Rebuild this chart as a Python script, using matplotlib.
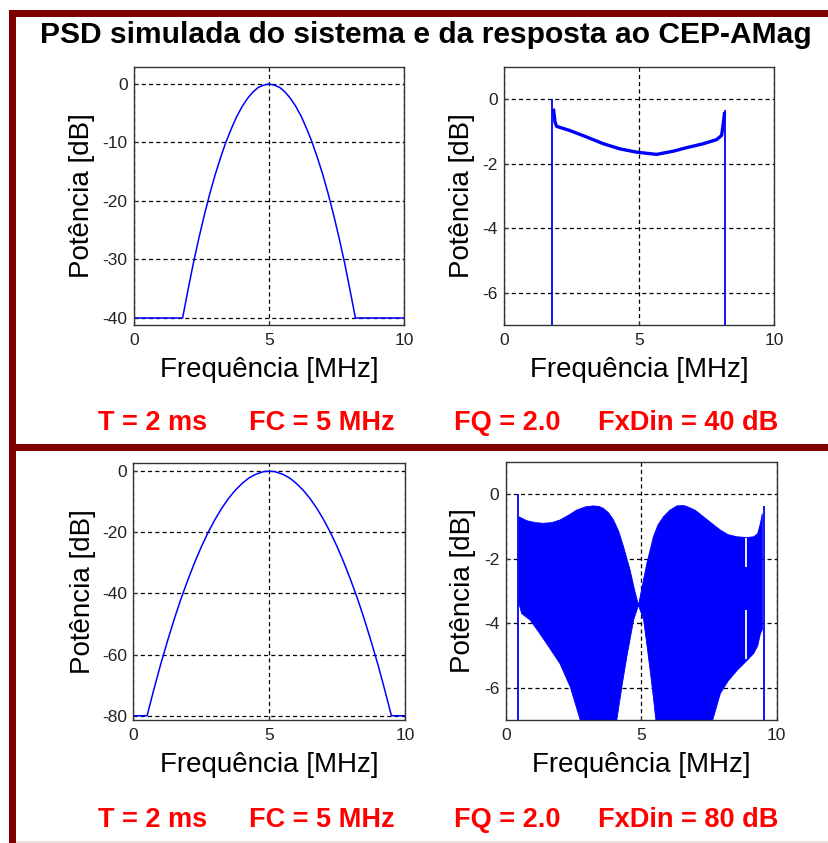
#!/usr/bin/env python3
"""PSD do sistema e da resposta ao CEP-AMag para duas faixas dinamicas (40 e 80 dB)."""

import matplotlib
matplotlib.use("Agg")
import matplotlib.pyplot as plt
from matplotlib.patches import Rectangle
import numpy as np

plt.rcParams["font.family"] = ["Liberation Sans", "DejaVu Sans"]
plt.rcParams["axes.unicode_minus"] = False

W, H = 829, 843

TITLE = "PSD simulada do sistema e da resposta ao CEP-AMag"
XLABEL = "Frequência [MHz]"
YLABEL = "Potência [dB]"

params_40 = ["T = 2 ms", "FC = 5 MHz", "FQ = 2.0", "FxDin = 40 dB"]
params_80 = ["T = 2 ms", "FC = 5 MHz", "FQ = 2.0", "FxDin = 80 dB"]

x_ticks = [0, 5, 10]

# --- sistema, FxDin = 40 dB ---
sys40_freq = [0.0, 1.8, 2.0, 2.2, 2.4, 2.6, 2.8, 3.0, 3.2, 3.4, 3.6, 3.8, 4.0,
              4.2, 4.4, 4.6, 4.8, 5.0, 5.2, 5.4, 5.6, 5.8, 6.0, 6.2, 6.4, 6.6,
              6.8, 7.0, 7.2, 7.4, 7.6, 7.8, 8.0, 8.2, 10.0]
sys40_db = [-40, -40, -35.2, -30.6, -26.4, -22.5, -18.9, -15.6, -12.7, -10.0,
            -7.7, -5.6, -3.9, -2.5, -1.4, -0.6, -0.2, 0.0, -0.2, -0.6, -1.4,
            -2.5, -3.9, -5.6, -7.7, -10.0, -12.7, -15.6, -18.9, -22.5, -26.4,
            -30.6, -35.2, -40, -40]
sys40_yticks = [0, -10, -20, -30, -40]

# --- resposta, FxDin = 40 dB ---
resp40_freq = [1.83, 1.89, 1.95, 2.44, 3.06, 3.68, 4.30, 4.91, 5.65, 6.27,
               6.77, 7.38, 7.88, 8.06, 8.12, 8.17]
resp40_db = [-0.29, -0.71, -0.84, -0.97, -1.17, -1.38, -1.54, -1.64, -1.71,
             -1.61, -1.50, -1.38, -1.25, -1.12, -0.76, -0.40]
resp40_edge_freq = [1.79, 8.19]
resp40_edge_top = [0.0, -0.34]
resp_yticks = [0, -2, -4, -6]

# --- sistema, FxDin = 80 dB ---
sys80_freq = [0.0, 0.5, 0.75, 1.0, 1.25, 1.5, 1.75, 2.0, 2.25, 2.5, 2.75, 3.0,
              3.25, 3.5, 3.75, 4.0, 4.25, 4.5, 4.8, 5.0, 5.2, 5.5, 5.75, 6.0,
              6.25, 6.5, 6.75, 7.0, 7.25, 7.5, 7.75, 8.0, 8.25, 8.5, 8.75,
              9.0, 9.25, 9.5, 10.0]
sys80_db = [-80, -80, -71.4, -63.2, -55.6, -48.4, -41.7, -35.6, -29.9, -24.7,
            -20.0, -15.8, -12.1, -8.9, -6.2, -4.0, -2.2, -1.0, -0.1, 0.0, -0.1,
            -1.0, -2.2, -4.0, -6.2, -8.9, -12.1, -15.8, -20.0, -24.7, -29.9,
            -35.6, -41.7, -48.4, -55.6, -63.2, -71.4, -80, -80]
sys80_yticks = [0, -20, -40, -60, -80]

# --- resposta, FxDin = 80 dB: envoltorias superior e inferior da oscilacao ---
resp80_up_freq = [0.49, 0.59, 0.78, 1.10, 1.39, 1.70, 2.00, 2.30, 2.62, 2.95,
                  3.24, 3.45, 3.61, 3.80, 3.98, 4.17, 4.35, 4.59, 4.75, 4.90,
                  5.05, 5.21, 5.45, 5.62, 5.82, 6.05, 6.32, 6.55, 6.69, 7.00,
                  7.30, 7.60, 7.92, 8.20, 8.54, 8.90, 9.15, 9.30, 9.40, 9.47]
resp80_up_db = [-0.70, -0.74, -0.82, -0.88, -0.90, -0.88, -0.80, -0.66, -0.49,
                -0.39, -0.36, -0.38, -0.44, -0.58, -0.80, -1.15, -1.63, -2.35,
                -2.95, -3.44, -2.80, -2.14, -1.32, -0.95, -0.70, -0.50, -0.36,
                -0.35, -0.38, -0.50, -0.70, -0.90, -1.11, -1.25, -1.32, -1.34,
                -1.32, -1.22, -0.90, -0.60]
resp80_lo_freq = [0.49, 0.59, 0.90, 1.20, 1.51, 2.00, 2.38, 2.75, 2.80, 4.05,
                  4.10, 4.30, 4.47, 4.60, 4.72, 4.90, 5.09, 5.20, 5.33, 5.45,
                  5.54, 5.60, 7.60, 7.64, 7.92, 8.20, 8.54, 8.91, 9.15, 9.30,
                  9.40, 9.47]
resp80_lo_db = [-3.39, -3.70, -3.90, -4.25, -4.63, -5.25, -5.97, -7.0, -8.0,
                -8.0, -7.0, -5.90, -5.04, -4.45, -3.90, -3.44, -3.90, -4.60,
                -5.46, -6.30, -7.0, -8.0, -8.0, -7.0, -6.18, -5.80, -5.46,
                -5.15, -4.94, -4.70, -4.32, -4.20]
resp80_edge_freq = [0.44, 9.52]
resp80_edge_top = [0.0, -0.36]
# faixas sem sinal perto de 8.9 MHz
resp80_notch_freq = 8.88
resp80_notch_spans = [(-1.37, -2.25), (-3.60, -5.10)]

BLUE = "#0000ff"
DARK_RED = "#800000"
GRID_STYLE = dict(color="black", linewidth=0.9, linestyle=(0, (3.3, 2.5)))


def px_rect(x, y, w, h):
    """Rectangle from pixel coordinates (origin top-left) in figure units."""
    return (x / W, 1 - (y + h) / H), w / W, h / H


def setup_axes(ax, ylim, yticks):
    ax.set_xlim(0, 10)
    ax.set_ylim(*ylim)
    ax.set_xticks(x_ticks)
    ax.set_xticklabels([str(t) for t in x_ticks])
    ax.set_yticks(yticks)
    ax.set_yticklabels([str(t) for t in yticks])
    ax.grid(True, **GRID_STYLE)
    ax.set_axisbelow(True)
    ax.tick_params(direction="in", length=3, width=0.8, labelsize=12.5,
                   labelcolor="#222222", color="#333333")
    ax.tick_params(axis="x", pad=5.5)
    ax.tick_params(axis="y", pad=4.5)
    for sp in ax.spines.values():
        sp.set_color("#333333")
        sp.set_linewidth(1.0)
    ax.set_xlabel(XLABEL, fontsize=20, va="center")
    ax.xaxis.set_label_coords(0.5, -0.174)


fig = plt.figure(figsize=(W / 100, H / 100), dpi=100)
fig.patch.set_facecolor("white")

# moldura vermelho-escura
for x, y, w, h in [(9, 10, 7, 833), (9, 10, 820, 7), (9, 444, 820, 7)]:
    xy, fw, fh = px_rect(x, y, w, h)
    fig.add_artist(Rectangle(xy, fw, fh, transform=fig.transFigure,
                             facecolor=DARK_RED, edgecolor="none"))
xy, fw, fh = px_rect(16, 841, 813, 2)
fig.add_artist(Rectangle(xy, fw, fh, transform=fig.transFigure,
                         facecolor="#efdcdc", edgecolor="none"))

fig.text(426 / W, 1 - 43 / H, TITLE, ha="center", va="baseline",
         fontsize=21.6, fontweight="bold", color="black")

ax_tl = fig.add_axes([134 / W, 1 - 325 / H, 270 / W, 258 / H])
ax_tr = fig.add_axes([504 / W, 1 - 325 / H, 270 / W, 258 / H])
ax_bl = fig.add_axes([133.5 / W, 1 - 720 / H, 271.5 / W, 257 / H])
ax_br = fig.add_axes([505.7 / W, 1 - 720 / H, 271 / W, 258 / H])

# sistema 40 dB
ax_tl.plot(sys40_freq, sys40_db, color=BLUE, linewidth=1.1)
setup_axes(ax_tl, (-41.2, 2.9), sys40_yticks)
ax_tl.set_ylabel(YLABEL, fontsize=20, va="center")
ax_tl.yaxis.set_label_coords(-0.193, 0.5)

# resposta 40 dB
ax_tr.vlines(resp40_edge_freq, -10, resp40_edge_top, color=BLUE, linewidth=1.3)
ax_tr.plot(resp40_freq, resp40_db, color=BLUE, linewidth=2.4,
           solid_capstyle="butt")
setup_axes(ax_tr, (-7, 1), resp_yticks)
ax_tr.set_ylabel(YLABEL, fontsize=20, va="center")
ax_tr.yaxis.set_label_coords(-0.156, 0.5)

# sistema 80 dB
ax_bl.plot(sys80_freq, sys80_db, color=BLUE, linewidth=1.1)
setup_axes(ax_bl, (-81.4, 2.7), sys80_yticks)
ax_bl.set_ylabel(YLABEL, fontsize=20, va="center")
ax_bl.yaxis.set_label_coords(-0.186, 0.5)

# resposta 80 dB: oscilacao rapida preenche a area entre as envoltorias
ax_br.vlines(resp80_edge_freq, -10, resp80_edge_top, color=BLUE, linewidth=1.3)
poly_f = np.concatenate([resp80_up_freq, resp80_lo_freq[::-1]])
poly_d = np.concatenate([resp80_up_db, resp80_lo_db[::-1]])
ax_br.fill(poly_f, poly_d, color=BLUE, linewidth=0.6, zorder=2)
for top, bottom in resp80_notch_spans:
    ax_br.vlines(resp80_notch_freq, bottom, top, color="white",
                 linewidth=1.3, zorder=3)
setup_axes(ax_br, (-7, 1), resp_yticks)
ax_br.set_ylabel(YLABEL, fontsize=20, va="center")
ax_br.yaxis.set_label_coords(-0.158, 0.5)

# parametros de simulacao em vermelho
param_x = [98, 249, 454, 598]
for labels, base_y in [(params_40, 430), (params_80, 827)]:
    for px, label in zip(param_x, labels):
        fig.text(px / W, 1 - base_y / H, label, ha="left", va="baseline",
                 fontsize=19.5, fontweight="bold", color="#ff0000")

fig.savefig("out.png", dpi=100)
